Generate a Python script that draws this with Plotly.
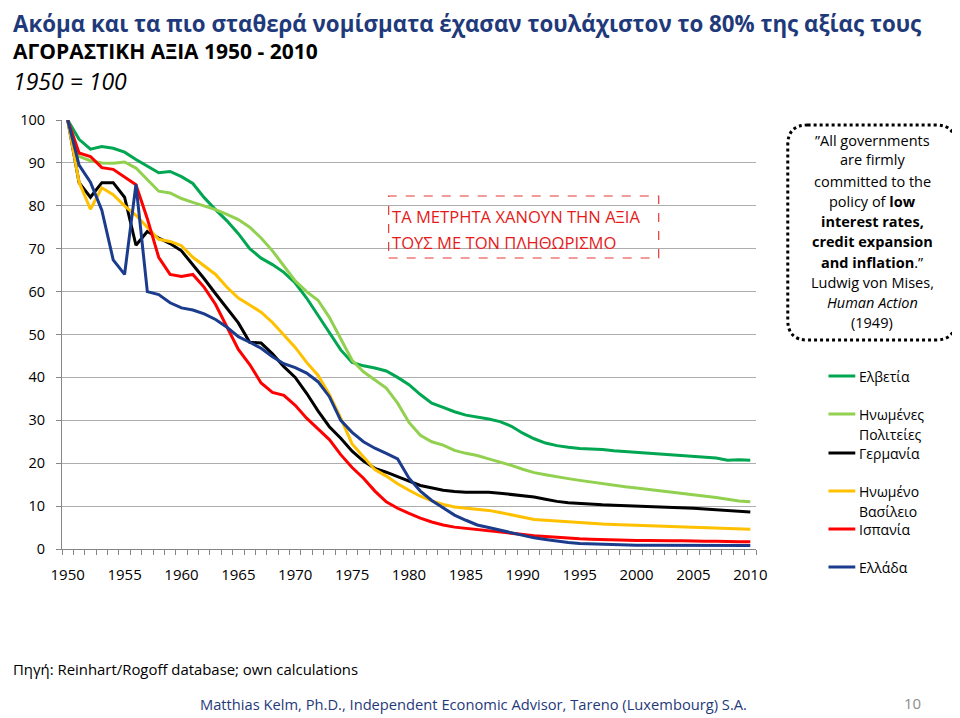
import plotly.graph_objects as go

# ---------------- data ----------------
years = list(range(1950, 2011))

switzerland = [100, 95.5, 93.2, 93.8, 93.4, 92.5, 90.8, 89.2, 87.7, 88.0,
               86.8, 85.2, 81.9, 79.1, 76.5, 73.5, 70.0, 67.8, 66.3, 64.5,
               62.0, 58.5, 54.5, 50.3, 46.4, 43.5, 42.7, 42.2, 41.5, 40.0,
               38.3, 36.0, 34.0, 33.0, 32.0, 31.2, 30.8, 30.3, 29.7, 28.6,
               27.0, 25.7, 24.7, 24.1, 23.7, 23.4, 23.3, 23.2, 22.9, 22.7,
               22.5, 22.4, 22.2, 22.0, 21.8, 21.6, 21.4, 21.2, 20.7, 20.8,
               20.7]
usa = [100, 91.5, 90.5, 90.0, 89.9, 90.2, 88.8, 86.0, 83.4, 83.0,
       81.7, 80.8, 80.0, 79.1, 78.0, 76.8, 75.0, 72.5, 69.5, 66.0,
       62.5, 60.0, 58.0, 54.0, 49.0, 44.0, 41.3, 39.5, 37.5, 34.0,
       29.5, 26.5, 25.0, 24.2, 23.0, 22.3, 21.8, 21.0, 20.3, 19.5,
       18.6, 17.8, 17.3, 16.8, 16.4, 16.0, 15.6, 15.2, 14.9, 14.5,
       14.2, 13.9, 13.6, 13.3, 13.0, 12.7, 12.3, 12.0, 11.6, 11.2,
       11.0]
germany = [100, 85.4, 82.0, 85.4, 85.4, 82.0, 70.8, 74.0, 72.5, 71.2,
           69.5, 66.3, 63.0, 59.5, 56.0, 52.7, 48.2, 48.0, 45.5, 42.5,
           40.0, 36.3, 32.2, 28.5, 25.8, 22.8, 20.5, 18.8, 17.9, 16.8,
           15.8, 14.8, 14.2, 13.7, 13.4, 13.2, 13.2, 13.2, 13.0, 12.7,
           12.5, 12.1, 11.6, 11.1, 10.8, 10.6, 10.4, 10.3, 10.2, 10.1,
           10.1, 9.9, 9.8, 9.7, 9.6, 9.5, 9.3, 9.1, 8.9, 8.8,
           8.6]
uk = [100, 85.5, 79.2, 84.2, 82.6, 80.0, 77.8, 75.0, 72.2, 71.7,
      70.7, 68.0, 66.0, 64.0, 61.0, 58.5, 56.9, 55.2, 52.8, 49.8,
      47.0, 43.5, 40.5, 36.0, 30.5, 24.5, 21.5, 18.5, 17.0, 15.2,
      13.7, 12.3, 11.2, 10.4, 9.8, 9.5, 9.2, 9.0, 8.5, 8.0,
      7.4, 6.9, 6.7, 6.5, 6.3, 6.1, 5.9, 5.8, 5.7, 5.6,
      5.5, 5.4, 5.3, 5.3, 5.2, 5.1, 5.0, 4.9, 4.8, 4.7,
      4.6]
spain = [100, 92.3, 91.5, 88.9, 88.5, 86.8, 84.9, 77.0, 68.0, 64.0,
         63.5, 64.0, 61.0, 57.0, 51.8, 46.5, 43.0, 38.7, 36.5, 35.8,
         33.5, 30.5, 28.0, 25.5, 22.0, 19.0, 16.5, 13.5, 11.0, 9.5,
         8.3, 7.2, 6.3, 5.6, 5.1, 4.8, 4.5, 4.3, 4.0, 3.7,
         3.4, 3.1, 2.9, 2.7, 2.5, 2.4, 2.3, 2.2, 2.1, 2.1,
         2.0, 2.0, 1.9, 1.9, 1.9, 1.8, 1.8, 1.8, 1.7, 1.7,
         1.7]
greece = [100, 89.5, 85.5, 79.0, 67.4, 64.0, 85.0, 60.0, 59.3, 57.4,
          56.2, 55.7, 54.8, 53.5, 51.7, 49.5, 48.2, 46.8, 44.8, 43.2,
          42.3, 41.0, 39.0, 35.5, 30.0, 27.2, 25.0, 23.5, 22.3, 21.0,
          16.5, 13.5, 11.3, 9.5, 7.9, 6.7, 5.6, 5.0, 4.4, 3.8,
          3.2, 2.6, 2.2, 1.8, 1.5, 1.3, 1.2, 1.1, 1.0, 1.0,
          0.9, 0.9, 0.9, 0.9, 0.8, 0.8, 0.8, 0.8, 0.8, 0.8,
          0.8]

series_names = ["Ελβετία", "Ηνωμένες Πολιτείες", "Γερμανία",
                "Ηνωμένο Βασίλειο", "Ισπανία", "Ελλάδα"]
legend_lines = [["Ελβετία"], ["Ηνωμένες", "Πολιτείες"], ["Γερμανία"],
                ["Ηνωμένο", "Βασίλειο"], ["Ισπανία"], ["Ελλάδα"]]
series_values = [switzerland, usa, germany, uk, spain, greece]
colors = ["#00A651", "#92D050", "#000000", "#FFC000", "#FF0000", "#1B3C8C"]

x_ticks = list(range(1950, 2011, 5))
y_ticks = list(range(0, 101, 10))

# ---------------- geometry helpers ----------------
# page has an 8px body margin, so the figure starts at (8, 8) of the window
OFF = 8
W, H = 960 - OFF, 718 - OFF
PLOT_X0, PLOT_X1, PLOT_Y0, PLOT_Y1 = 57, 756, 120, 549   # window pixels
L = PLOT_X0 - OFF
T = PLOT_Y0 - OFF
R = 960 - PLOT_X1
B = 718 - PLOT_Y1
PW = PLOT_X1 - PLOT_X0
PH = PLOT_Y1 - PLOT_Y0


def px(xp):
    return (xp - PLOT_X0) / PW


def py(yp):
    return (PLOT_Y1 - yp) / PH


FONT = "Open Sans"

fig = go.Figure()
for name, vals, col in zip(series_names, series_values, colors):
    fig.add_trace(go.Scatter(x=years, y=vals, mode="lines", name=name,
                             line=dict(color=col, width=3),
                             showlegend=False, hoverinfo="x+y+name"))

annotations = []
shapes = []


def text(x, y, s, size, color="#000000", anchor="left", bold=False, italic=False, family=FONT):
    if bold:
        s = "<b>" + s + "</b>"
    if italic:
        s = "<i>" + s + "</i>"
    annotations.append(dict(xref="paper", yref="paper", x=px(x), y=py(y), text=s,
                            showarrow=False, xanchor=anchor, yanchor="middle",
                            borderpad=0,
                            font=dict(size=size, color=color, family=family)))


# titles
text(7, 23, "Ακόμα και τα πιο σταθερά νομίσματα έχασαν τουλάχιστον το 80% της αξίας τους",
     22.3, color="#1F3A7A", bold=True)
text(7, 51, "ΑΓΟΡΑΣΤΙΚΗ ΑΞΙΑ 1950 - 2010", 21, bold=True)
text(7, 81, "1950 = 100", 23, italic=True)

# red dashed box
shapes.append(dict(type="rect", xref="paper", yref="paper",
                   x0=px(386), x1=px(658), y0=py(258), y1=py(196),
                   line=dict(color="#E53935", width=1.2, dash="dash")))
text(388, 216, "ΤΑ ΜΕΤΡΗΤΑ ΧΑΝΟΥΝ ΤΗΝ ΑΞΙΑ", 16.6, color="#E41B1B")
text(388, 243, "ΤΟΥΣ ΜΕ ΤΟΝ ΠΛΗΘΩΡΙΣΜΟ", 16.6, color="#E41B1B")

# quote box (rounded, dotted)
x0, x1, y0, y1, r = 788, 957, 125, 340, 20


def P(x, y):
    return f"{px(x):.5f},{py(y):.5f}"


path = (f"M {P(x0 + r, y0)} L {P(x1 - r, y0)} Q {P(x1, y0)} {P(x1, y0 + r)} "
        f"L {P(x1, y1 - r)} Q {P(x1, y1)} {P(x1 - r, y1)} "
        f"L {P(x0 + r, y1)} Q {P(x0, y1)} {P(x0, y1 - r)} "
        f"L {P(x0, y0 + r)} Q {P(x0, y0)} {P(x0 + r, y0)} Z")
shapes.append(dict(type="path", xref="paper", yref="paper", path=path,
                   line=dict(color="#000000", width=3, dash="dot")))
quote = [("”All governments", 140), ("are firmly", 160), ("committed to the", 181),
         ("policy of <b>low</b>", 201), ("<b>interest rates,</b>", 221),
         ("<b>credit expansion</b>", 241), ("<b>and inflation</b>.”", 262),
         ("Ludwig von Mises,", 282), ("<i>Human Action</i>", 302), ("(1949)", 322)]
for s, y in quote:
    text(873, y, s, 14.5, anchor="center")

# manual legend
leg_y = [376, 414, 453, 491, 529, 567]
for lines, col, y in zip(legend_lines, colors, leg_y):
    shapes.append(dict(type="line", xref="paper", yref="paper",
                       x0=px(829), x1=px(856), y0=py(y), y1=py(y),
                       line=dict(color=col, width=3)))
    for i, ln in enumerate(lines):
        text(859, y + i * 20, ln, 14)

# footer
text(7, 669, "Πηγή: Reinhart/Rogoff database; own calculations", 14.9)
text(471, 704, "Matthias Kelm, Ph.D., Independent Economic Advisor, Tareno (Luxembourg) S.A.",
     14.7, color="#1F3A7A", anchor="center")
text(914, 703, "10", 15, color="#8C8C8C", anchor="center")

fig.update_layout(
    width=W, height=H,
    margin=dict(l=L, r=R, t=T, b=B, pad=0),
    paper_bgcolor="white", plot_bgcolor="white",
    font=dict(family=FONT, color="#000000"),
    annotations=annotations, shapes=shapes,
    xaxis=dict(range=[1949.5, 2010.5], tickvals=x_ticks,
               ticktext=[str(v) for v in x_ticks], showgrid=False,
               showline=True, linecolor="#868686", linewidth=1,
               ticks="", ticklen=0, ticklabelstandoff=12,
               tickfont=dict(size=15, color="#000000"),
               minor=dict(ticks="outside", tick0=1949.5, dtick=1, ticklen=5,
                          tickcolor="#868686", showgrid=False),
               zeroline=False, fixedrange=True),
    yaxis=dict(range=[0, 100], tickvals=y_ticks, showgrid=True,
               gridcolor="#ADADAD", gridwidth=1.2,
               showline=True, linecolor="#868686", linewidth=1,
               ticks="outside", ticklen=5, tickcolor="#868686",
               ticklabelstandoff=8,
               tickfont=dict(size=14.5, color="#000000"),
               zeroline=False, fixedrange=True),
    showlegend=False,
)

fig.write_html("out.html")
